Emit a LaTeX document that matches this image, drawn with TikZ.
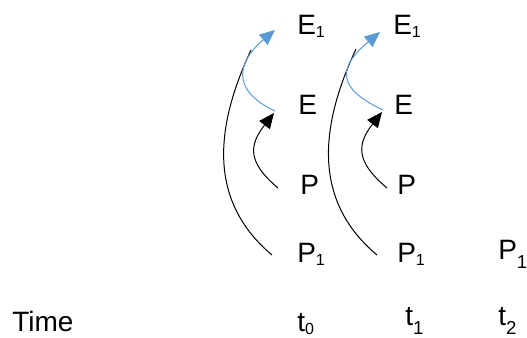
\documentclass[tikz,border=0pt]{standalone}
\usepackage{fontspec}
\setmainfont{Liberation Sans}
\usetikzlibrary{arrows.meta}
\definecolor{arcblue}{HTML}{5B9BD5}
\newcommand{\lsub}[1]{\raisebox{-0.1em}{\fontsize{12}{12}\selectfont#1}}
\newcommand{\dsub}[1]{\raisebox{-0.3em}{\fontsize{14}{14}\selectfont#1}}

\begin{document}
\begin{tikzpicture}[x=0.75pt, y=0.75pt, >={Triangle[length=11.5pt,width=10pt]},
  lbl/.style={anchor=base west, inner sep=0pt, font=\fontsize{21}{25}\selectfont},
  arcline/.style={line width=0.75pt},
  arcarrow/.style={line width=0.75pt, ->},
  bluearc/.style={line width=0.75pt, draw=arcblue, -{Triangle[length=11.5pt,width=10pt,fill=arcblue]}}]
  \useasboundingbox (0,0) rectangle (527,338);
  % time axis
  \node[lbl] (time) at (12,6) {Time};
  \node[lbl] (t0) at (297,6) {t\lsub{0}};
  \node[lbl] (t1) at (405,12) {t\dsub{1}};
  \node[lbl] (t2) at (498,12) {t\dsub{2}};
  % column t0
  \node[lbl] (e1a) at (297,303) {E\lsub{1}};
  \node[lbl] (ea) at (298,223) {E};
  \node[lbl] (pa) at (300,143) {P};
  \node[lbl] (p1a) at (297,75) {P\lsub{1}};
  % column t1
  \node[lbl] (e1b) at (393,303) {E\lsub{1}};
  \node[lbl] (eb) at (394,223) {E};
  \node[lbl] (pb) at (397,143) {P};
  \node[lbl] (p1b) at (397,75) {P\lsub{1}};
  % column t2
  \node[lbl] (p1c) at (498,78) {P\dsub{1}};
  % arcs at t0
  \draw[arcline] ([shift={(-25,8)}]p1a.base west) to[out=140,in=245,looseness=1.05] ([shift={(-46,-15)}]e1a.base west);
  \draw[bluearc] ([shift={(-23,4)}]ea.base west) to[out=155,in=220,looseness=1.56] ([shift={(-22,5)}]e1a.base west);
  \draw[arcarrow] ([shift={(-22,7)}]pa.base west) to[out=140,in=232,looseness=1.38] ([shift={(-24,2)}]ea.base west);
  % arcs at t1
  \draw[arcline] ([shift={(-20,8)}]p1b.base west) to[out=140,in=245,looseness=1.05] ([shift={(-37,-14)}]e1b.base west);
  \draw[bluearc] ([shift={(-11,5)}]eb.base west) to[out=155,in=220,looseness=1.75] ([shift={(-13,3)}]e1b.base west);
  \draw[arcarrow] ([shift={(-10,7)}]pb.base west) to[out=140,in=232,looseness=1.38] ([shift={(-12,3)}]eb.base west);
\end{tikzpicture}
\end{document}
